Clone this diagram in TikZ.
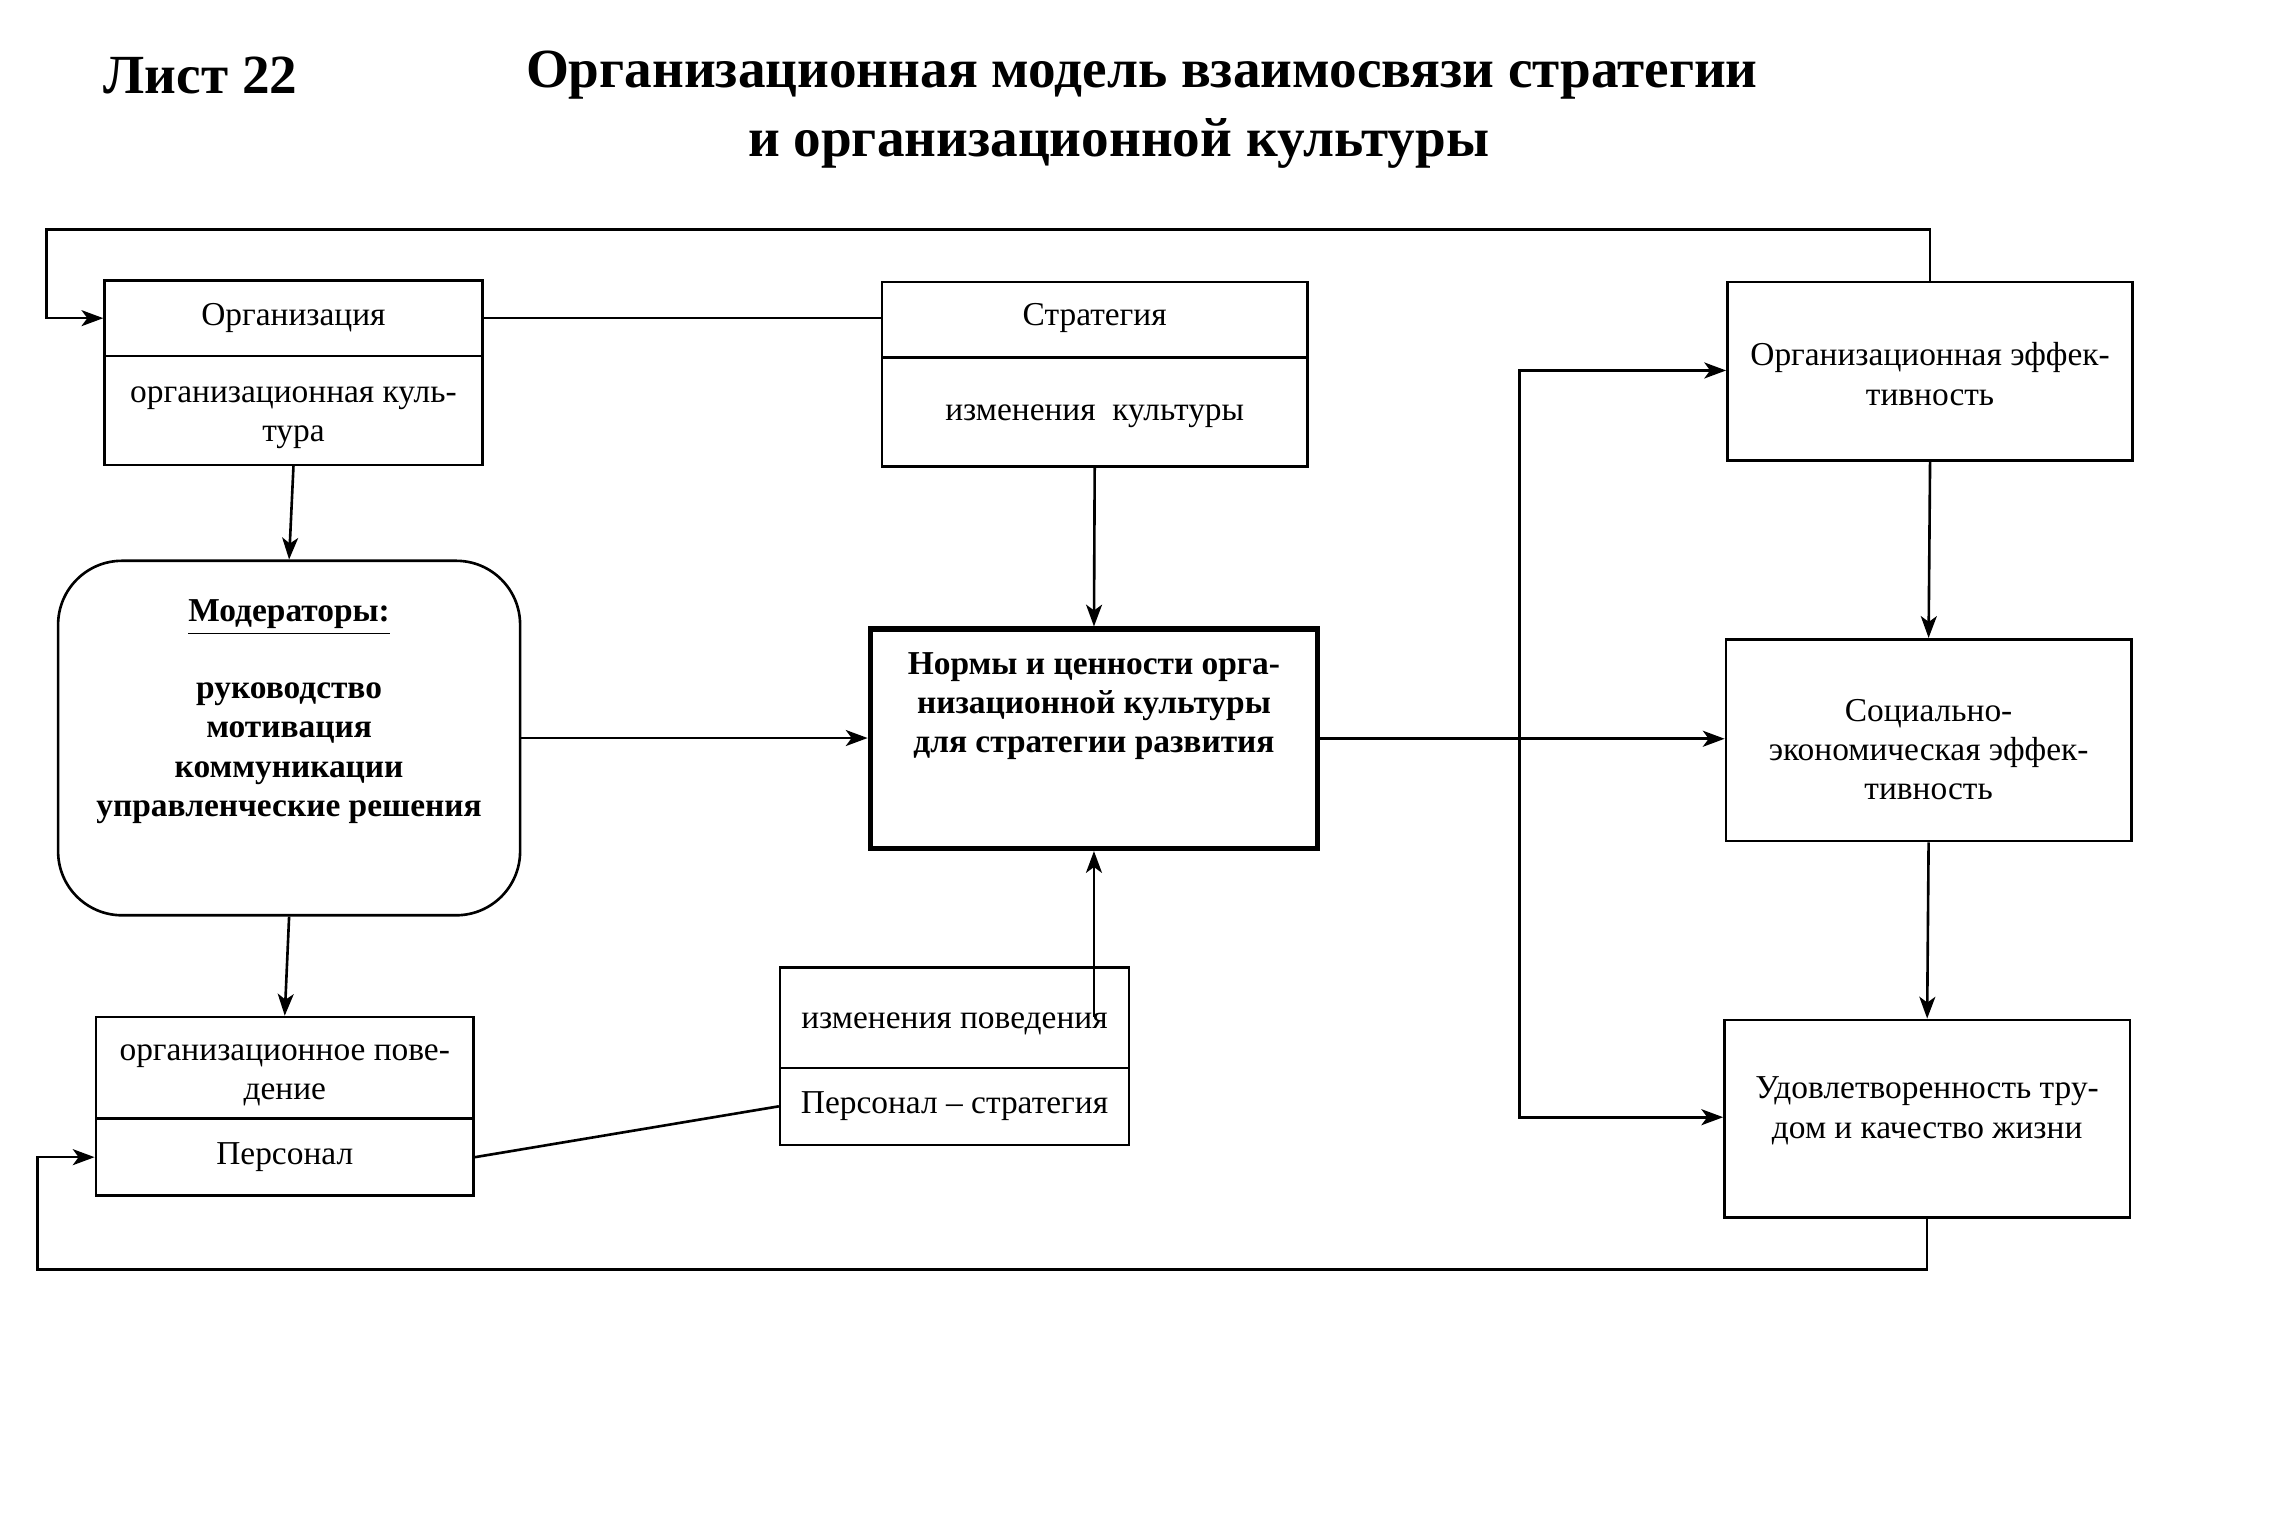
\documentclass[tikz,border=0pt]{standalone}
\usepackage{fontspec}
\setmainfont{Liberation Serif}
\usetikzlibrary{arrows.meta}
\begin{document}
\begin{tikzpicture}[x=0.5pt,y=-0.5pt,
  every node/.style={font=\fontsize{11.5}{13.5}\selectfont, align=center, inner sep=0pt},
  pbox/.style n args={2}{draw, line width=0.9pt, minimum width=#1*0.5pt, minimum height=#2*0.5pt},
  ttl/.style={font=\bfseries\fontsize{19}{23}\selectfont},
  bld/.style={font=\bfseries\fontsize{11.5}{13.5}\selectfont},
  conn/.style={line width=0.9pt},
  arr/.style={line width=0.9pt, -{Stealth[length=7.5pt,width=5.5pt,inset=2pt]}},
  darr/.style={line width=0.9pt, {Stealth[length=7.5pt,width=5.5pt,inset=2pt]}-{Stealth[length=7.5pt,width=5.5pt,inset=2pt]}}
]
\useasboundingbox (0,0) rectangle (1568,1054);

% titles
\node[ttl] (list) at (138,52) {Лист 22};
\node[ttl] (title1) at (786,52) {Организационная модель взаимосвязи стратегии};
\node[ttl] (title2) at (770,99) {и организационной культуры};

% left column
\node[pbox={260}{52}] (orgT) at (202,219) {};
\node (orgTt) at (202,219) {Организация};
\node[pbox={260}{75}] (orgB) at (202,282.5) {};
\node (orgBt) at (202,287.5) {организационная куль-\\тура};

\node[draw, line width=0.9pt, rounded corners=22pt, minimum width=318*0.5pt, minimum height=244*0.5pt] (mod) at (199,508) {};
\node[bld] (modT) at (199,425) {\underline{Модераторы:}};
\node[bld] (modL) at (199,518.5) {руководство\\мотивация\\коммуникации\\управленческие решения};

\node[pbox={260}{70}] (persT) at (196,735) {};
\node (persTt) at (196,740) {организационное пове-\\дение};
\node[pbox={260}{53}] (persB) at (196,796.5) {};
\node (persBt) at (196,796.5) {Персонал};

% middle column
\node[pbox={293}{52}] (stratT) at (753.5,220) {};
\node (stratTt) at (753.5,219) {Стратегия};
\node[pbox={293}{75}] (stratB) at (753.5,283.5) {};
\node (stratBt) at (753.5,286.5) {изменения~~культуры};

\node[draw, line width=1.8pt, minimum width=308*0.5pt, minimum height=151*0.5pt] (norms) at (753,508.5) {};
\node[bld] (normsT) at (753,486) {Нормы и ценности орга-\\низационной культуры\\для стратегии развития};

\node[pbox={240}{69}] (behT) at (657,700.5) {};
\node (behTt) at (657,704.5) {изменения поведения};
\node[pbox={240}{53}] (behB) at (657,761.5) {};
\node (behBt) at (657,761.5) {Персонал – стратегия};

% right column
\node[pbox={279}{123}] (effOrg) at (1328.5,255.5) {};
\node (effOrgT) at (1328.5,257.5) {Организационная эффек-\\тивность};
\node[pbox={279}{139}] (effSoc) at (1327.5,509.5) {};
\node (effSocT) at (1327.5,516) {Социально-\\экономическая эффек-\\тивность};
\node[pbox={279}{136}] (effSat) at (1326.5,770) {};
\node (effSatT) at (1326.5,764.5) {Удовлетворенность тру-\\дом и качество жизни};

% helper coordinates
\coordinate (loopTL) at (32,158);
\coordinate (loopBL) at (26,874);
\coordinate (splitTop) at (1046,255);
\coordinate (splitBot) at (1046,769);
\coordinate (behStart) at (753,700);

% connectors
\draw[arr] (effOrg.north) |- (loopTL) |- (orgT.west);
\draw[conn] (orgT.east) -- (orgT.east -| stratT.west);
\draw[arr] (orgB.south) -- (mod.north);
\draw[arr] (mod.south) -- (persT.north);
\draw[arr] (stratB.south) -- (norms.north);
\draw[arr] (mod.east) -- (mod.east -| norms.west);
\draw[arr] (norms.east) -- (norms.east -| effSoc.west);
\draw[darr] (effSat.west |- splitBot) -- (splitBot) -- (splitTop) -- (effOrg.west |- splitTop);
\draw[arr] (effOrg.south) -- (effSoc.north);
\draw[arr] (effSoc.south) -- (effSat.north);
\draw[arr] (effSat.south) |- (loopBL) |- (persB.west);
\draw[conn] (persB.east) -- (behB.west);
\draw[arr] (behStart) -- (behStart |- norms.south);

\end{tikzpicture}
\end{document}
